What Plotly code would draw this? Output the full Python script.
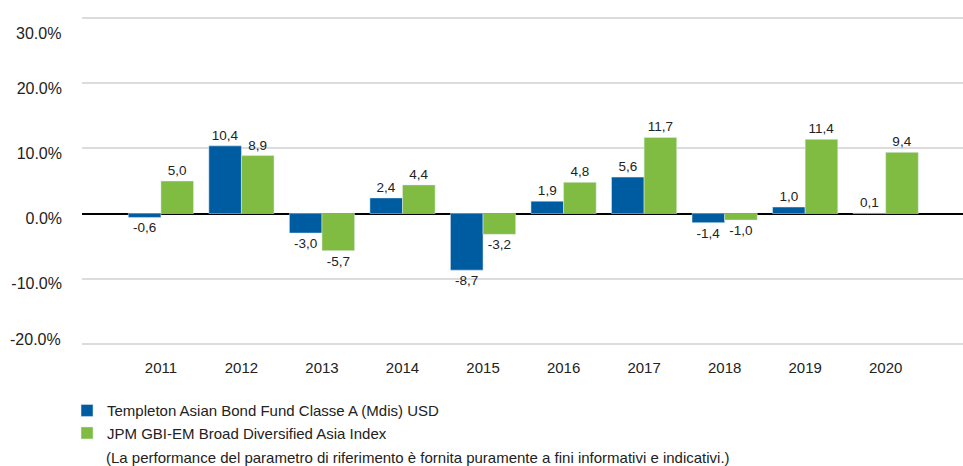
import plotly.graph_objects as go

years = ["2011", "2012", "2013", "2014", "2015", "2016", "2017", "2018", "2019", "2020"]
fund = [-0.6, 10.4, -3.0, 2.4, -8.7, 1.9, 5.6, -1.4, 1.0, 0.1]
index = [5.0, 8.9, -5.7, 4.4, -3.2, 4.8, 11.7, -1.0, 11.4, 9.4]
fund_name = "Templeton Asian Bond Fund Classe A (Mdis) USD"
index_name = "JPM GBI-EM Broad Diversified Asia Index"
note = "(La performance del parametro di riferimento è fornita puramente a fini informativi e indicativi.)"
ytick_vals = [-20, -10, 0, 10, 20, 30]
ytick_text = ["-20.0%", "-10.0%", "0.0%", "10.0%", "20.0%", "30.0%"]

def lab(vals):
    return [f"{v:.1f}".replace(".", ",") for v in vals]

FONT = "Liberation Sans, Arial, sans-serif"
fig = go.Figure()
fig.add_trace(go.Bar(x=years, y=fund, name=fund_name, marker_color="#005ca0",
                     text=lab(fund), textposition="outside", cliponaxis=False,
                     textfont=dict(size=13.5, color="#222", family=FONT)))
fig.add_trace(go.Bar(x=years, y=index, name=index_name, marker_color="#80bc42",
                     text=lab(index), textposition="outside", cliponaxis=False,
                     textfont=dict(size=13.5, color="#222", family=FONT)))

# inner labels shown via axis; outer two (top/bottom) placed as annotations
shown = [t if v not in (30, -20) else "" for v, t in zip(ytick_vals, ytick_text)]

fig.update_layout(
    width=963, height=466,
    margin=dict(l=82, r=0, t=17, b=121),
    paper_bgcolor="white", plot_bgcolor="white",
    font=dict(family=FONT, size=15, color="#222"),
    barmode="group", bargap=0.19, bargroupgap=0,
    showlegend=True,
    legend=dict(orientation="v", x=-0.017, xanchor="left", y=-0.15, yanchor="top",
                font=dict(size=15, color="#222"), tracegroupgap=0, itemwidth=30,
                bgcolor="rgba(0,0,0,0)"),
)
fig.update_xaxes(type="category", range=[-0.98, 9.96], showgrid=False, ticks="",
                 showline=False, tickfont=dict(size=15), ticklabelstandoff=12)
fig.update_yaxes(range=[-20.2, 30.2], tickvals=ytick_vals, ticktext=shown,
                 showgrid=True, gridcolor="#dcdcdc", gridwidth=2,
                 zeroline=True, zerolinecolor="#000", zerolinewidth=1.5,
                 tickfont=dict(size=16), ticklabelstandoff=19, ticklabelshift=5)
for v, t in zip(ytick_vals, ytick_text):
    if v in (30, -20):
        fig.add_annotation(text=t, xref="paper", yref="y", x=0, y=v, xanchor="right",
                           yanchor="middle", xshift=-19, yshift=(-15 if v == 30 else 4),
                           showarrow=False, font=dict(size=16, color="#222"))
fig.add_annotation(text=note, xref="paper", yref="paper", x=(104-82)/881, y=-0.343,
                   xanchor="left", yanchor="middle", showarrow=False,
                   font=dict(size=15, color="#222"))
fig.write_html("out.html")
